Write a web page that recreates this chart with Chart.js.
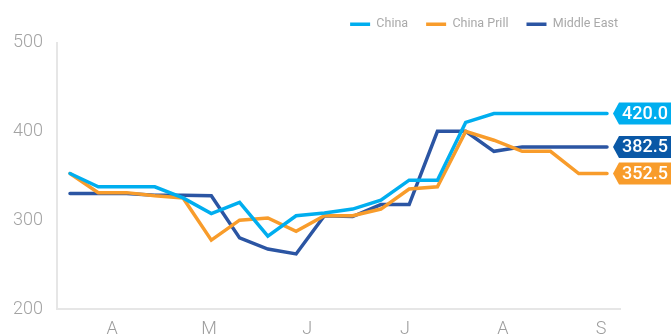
<!DOCTYPE html>
<html>
<head>
<meta charset="utf-8">
<script src="https://cdn.jsdelivr.net/npm/chart.js@4.4.1/dist/chart.umd.min.js"></script>
<style>
    html, body { margin: 0; padding: 0; background: #fff; }
    #wrap { width: 671px; height: 335px; }
</style>
</head>
<body>
<div id="wrap"><canvas id="priceChart"></canvas></div>
<script>
// Weekly price points (index along the x axis)
const weeks = [0, 1, 2, 3, 4, 5, 6, 7, 8, 9, 10, 11, 12, 13, 14, 15, 16, 17, 18, 19];

const china      = [352.5, 337.5, 337.5, 337.5, 325, 307.5, 320, 282, 305, 308, 312.5, 322.5, 345, 345, 410, 420, 420, 420, 420, 420.0];
const chinaPrill = [352.5, 331, 331, 327.5, 325, 277.5, 300, 302.5, 287.5, 305, 305, 312.5, 335, 337.5, 400, 390, 377.5, 377.5, 352.5, 352.5];
const middleEast = [330, 330, 330, 328, 328, 327.5, 280, 267.5, 262, 305, 304, 317.5, 317.5, 400, 400, 377.5, 382.5, 382.5, 382.5, 382.5];

// Month tick labels and where they sit on the week axis
const monthLabels = ['A', 'M', 'J', 'J', 'A', 'S'];
const monthPos = [1.49, 4.92, 8.39, 11.85, 15.32, 18.79];

const yTicks = [200, 300, 400, 500];

const colors = {
    china: '#00aeef',
    prill: '#f89c2b',
    me: '#2b55a3',
    meTag: '#0a58a6'
};

function toPoints(values) {
    return weeks.map((w, i) => ({ x: w, y: values[i] }));
}

// Tags with the latest value on the right edge
const endTags = {
    id: 'endTags',
    afterDatasetsDraw(chart) {
        const ctx = chart.ctx;
        const area = chart.chartArea;
        chart.data.datasets.forEach((ds, i) => {
            const meta = chart.getDatasetMeta(i);
            const last = meta.data[meta.data.length - 1];
            const y = last.y;
            const x0 = area.right - 7;
            const h = 11;
            ctx.save();
            ctx.fillStyle = ds.tagColor;
            ctx.beginPath();
            ctx.moveTo(x0, y);
            ctx.lineTo(x0 + 6, y - h);
            ctx.lineTo(chart.width + 2, y - h);
            ctx.lineTo(chart.width + 2, y + h);
            ctx.lineTo(x0 + 6, y + h);
            ctx.closePath();
            ctx.fill();
            ctx.fillStyle = '#ffffff';
            ctx.font = '500 18px Roboto, sans-serif';
            ctx.textAlign = 'left';
            ctx.textBaseline = 'middle';
            ctx.fillText(ds.data[ds.data.length - 1].y.toFixed(1), x0 + 9, y + 1);
            ctx.restore();
        });
    }
};

// nudge the legend so its last label ends near the axis end
const legendShift = {
    id: 'legendShift',
    afterLayout(chart) {
        chart.legend.left += 16;
        chart.legend.right += 16;
        chart.legend.top -= 2;
        chart.legend.bottom -= 2;
    }
};

const lineDefaults = {
    borderWidth: 3.5,
    pointRadius: 0,
    tension: 0,
    fill: false,
    borderCapStyle: 'round',
    borderJoinStyle: 'miter'
};

new Chart(document.getElementById('priceChart'), {
    type: 'line',
    data: {
        datasets: [
            { ...lineDefaults, label: 'China', data: toPoints(china), borderColor: colors.china, backgroundColor: colors.china, tagColor: colors.china },
            { ...lineDefaults, label: 'China Prill', data: toPoints(chinaPrill), borderColor: colors.prill, backgroundColor: colors.prill, tagColor: colors.prill },
            { ...lineDefaults, label: 'Middle East', data: toPoints(middleEast), borderColor: colors.me, backgroundColor: colors.me, tagColor: colors.meTag }
        ]
    },
    options: {
        responsive: true,
        maintainAspectRatio: false,
        animation: false,
        layout: {
            padding: { left: 0, right: 51, top: 2, bottom: 0 }
        },
        plugins: {
            legend: {
                position: 'top',
                align: 'end',
                labels: {
                    usePointStyle: true,
                    pointStyle: 'line',
                    pointStyleWidth: 20,
                    boxHeight: 4,
                    padding: 18,
                    color: '#a9a9a9',
                    font: { family: 'Roboto, sans-serif', size: 12.5 }
                }
            },
            tooltip: { enabled: false }
        },
        scales: {
            x: {
                type: 'linear',
                min: -0.46,
                max: 19.46,
                grid: { display: false },
                border: { display: true, color: '#e6e6e6', width: 2 },
                afterBuildTicks: (scale) => {
                    scale.ticks = monthPos.map(v => ({ value: v }));
                },
                afterFit: (scale) => { scale.height = 26; },
                ticks: {
                    autoSkip: false,
                    maxRotation: 0,
                    padding: 2,
                    color: '#9d9d9d',
                    font: { family: 'Roboto, sans-serif', size: 18, weight: 300 },
                    callback: (value, index) => monthLabels[index]
                }
            },
            y: {
                min: 200,
                max: 500,
                grid: { display: false },
                border: { display: true, color: '#e6e6e6', width: 2 },
                afterBuildTicks: (scale) => {
                    scale.ticks = yTicks.map(v => ({ value: v }));
                },
                afterFit: (scale) => { scale.width = 57; },
                ticks: {
                    padding: 6,
                    color: '#a3a3a3',
                    font: { family: 'Roboto, sans-serif', size: 18, weight: 300 }
                }
            }
        }
    },
    plugins: [endTags, legendShift]
});
</script>
</body>
</html>
